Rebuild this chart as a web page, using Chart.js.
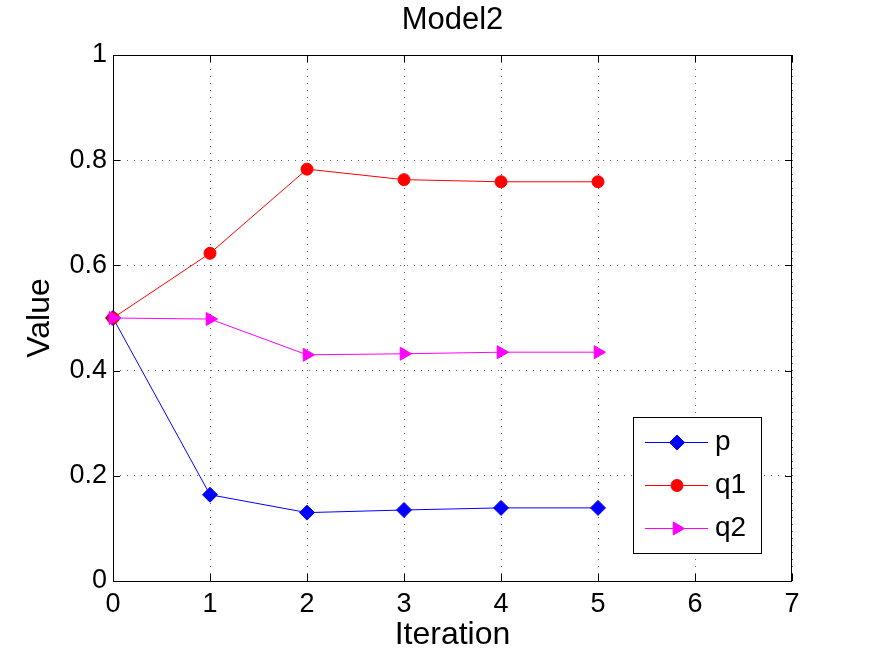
<!DOCTYPE html>
<html lang="en">

<head>
    <meta charset="UTF-8">
    <title>Model2</title>
    <script src="https://cdn.jsdelivr.net/npm/chart.js"></script>
    <style>
        body {
            margin: 0;
            background-color: #ffffff;
        }

        #modelChart {
            display: block;
        }
    </style>
</head>

<body>
    <canvas id="modelChart" width="873" height="657"></canvas>

    <script>
        // values
        const iterations = [0, 1, 2, 3, 4, 5];
        const pValues = [0.5, 0.164, 0.130, 0.135, 0.139, 0.139];
        const q1Values = [0.5, 0.623, 0.783, 0.763, 0.759, 0.759];
        const q2Values = [0.5, 0.498, 0.430, 0.432, 0.435, 0.435];

        const xTicks = [0, 1, 2, 3, 4, 5, 6, 7];
        const xTickLabels = ['0', '1', '2', '3', '4', '5', '6', '7'];
        const yTicks = [0, 0.2, 0.4, 0.6, 0.8, 1];
        const yTickLabels = ['0', '0.2', '0.4', '0.6', '0.8', '1'];

        const chartTitle = 'Model2';
        const fontFamily = "'Liberation Sans', Arial, Helvetica, sans-serif";

        function toPoints(values) {
            return values.map((v, i) => ({ x: iterations[i], y: v }));
        }

        // title above the axes, centred on the plot area
        const titlePlugin = {
            id: 'matlabTitle',
            afterDraw(chart) {
                const { ctx, chartArea } = chart;
                ctx.save();
                ctx.fillStyle = '#000';
                ctx.font = '31px ' + fontFamily;
                ctx.textAlign = 'center';
                ctx.textBaseline = 'middle';
                ctx.fillText(chartTitle, (chartArea.left + chartArea.right) / 2, 20);
                ctx.restore();
            }
        };

        // box around the axes plus inward tick marks on all four sides
        const framePlugin = {
            id: 'matlabFrame',
            beforeDatasetsDraw(chart) {
                const { ctx, chartArea, scales } = chart;
                const { left, right, top, bottom } = chartArea;
                const tickLen = 7;
                ctx.save();
                ctx.strokeStyle = '#000';
                ctx.lineWidth = 1;
                ctx.strokeRect(Math.round(left) + 0.5, Math.round(top) + 0.5,
                    Math.round(right - left) - 1, Math.round(bottom - top));
                ctx.beginPath();
                xTicks.forEach(v => {
                    const px = Math.round(scales.x.getPixelForValue(v)) + 0.5;
                    ctx.moveTo(px, bottom);
                    ctx.lineTo(px, bottom - tickLen);
                    ctx.moveTo(px, top);
                    ctx.lineTo(px, top + tickLen);
                });
                yTicks.forEach(v => {
                    const py = Math.round(scales.y.getPixelForValue(v)) + 0.5;
                    ctx.moveTo(left, py);
                    ctx.lineTo(left + tickLen, py);
                    ctx.moveTo(right, py);
                    ctx.lineTo(right - tickLen, py);
                });
                ctx.stroke();
                ctx.restore();
            }
        };

        // boxed legend in the lower right of the axes
        const legendPlugin = {
            id: 'matlabLegend',
            afterDraw(chart) {
                const { ctx, chartArea } = chart;
                const boxW = 128, boxH = 136;
                const boxLeft = Math.round(chartArea.right - 31 - boxW);
                const boxTop = Math.round(chartArea.bottom - 28 - boxH);
                const rows = [25, 68, 111];

                ctx.save();
                ctx.fillStyle = '#fff';
                ctx.fillRect(boxLeft, boxTop, boxW, boxH);
                ctx.strokeStyle = '#000';
                ctx.lineWidth = 1;
                ctx.strokeRect(boxLeft + 0.5, boxTop + 0.5, boxW, boxH);

                chart.data.datasets.forEach((ds, i) => {
                    const y = boxTop + rows[i];
                    ctx.strokeStyle = ds.borderColor;
                    ctx.lineWidth = 1;
                    ctx.beginPath();
                    ctx.moveTo(boxLeft + 12, y + 0.5);
                    ctx.lineTo(boxLeft + 75, y + 0.5);
                    ctx.stroke();

                    ctx.fillStyle = ds.pointBackgroundColor;
                    ctx.strokeStyle = ds.pointBorderColor;
                    Chart.helpers.drawPoint(ctx, {
                        pointStyle: ds.pointStyle,
                        rotation: ds.pointRotation || 0,
                        radius: ds.pointRadius,
                        borderWidth: 1
                    }, boxLeft + 44, y + 0.5);

                    ctx.fillStyle = '#000';
                    ctx.font = '28px ' + fontFamily;
                    ctx.textAlign = 'left';
                    ctx.textBaseline = 'middle';
                    ctx.fillText(ds.label, boxLeft + 82, y);
                });
                ctx.restore();
            }
        };

        const gridStyle = {
            color: '#666',
            lineWidth: 1,
            drawTicks: false
        };

        new Chart(document.getElementById('modelChart').getContext('2d'), {
            type: 'line',
            data: {
                datasets: [{
                    label: 'p',
                    data: toPoints(pValues),
                    borderColor: '#0000ff',
                    backgroundColor: '#0000ff',
                    pointBackgroundColor: '#0000ff',
                    pointBorderColor: '#0000ff',
                    pointStyle: 'rectRot',
                    pointRadius: 7.5,
                    borderWidth: 1,
                    order: 3,
                    clip: false
                }, {
                    label: 'q1',
                    data: toPoints(q1Values),
                    borderColor: '#ff0000',
                    backgroundColor: '#ff0000',
                    pointBackgroundColor: '#ff0000',
                    pointBorderColor: '#ff0000',
                    pointStyle: 'circle',
                    pointRadius: 6,
                    borderWidth: 1,
                    order: 2,
                    clip: false
                }, {
                    label: 'q2',
                    data: toPoints(q2Values),
                    borderColor: '#ff00ff',
                    backgroundColor: '#ff00ff',
                    pointBackgroundColor: '#ff00ff',
                    pointBorderColor: '#ff00ff',
                    pointStyle: 'triangle',
                    pointRotation: 90,
                    pointRadius: 7.5,
                    borderWidth: 1,
                    order: 1,
                    clip: false
                }]
            },
            options: {
                responsive: false,
                animation: false,
                devicePixelRatio: 1,
                layout: {
                    padding: { top: 55, right: 81, left: 0, bottom: 0 }
                },
                plugins: {
                    legend: { display: false },
                    tooltip: { enabled: false },
                    title: { display: false }
                },
                elements: {
                    line: { tension: 0 },
                    point: { pointBorderWidth: 1 }
                },
                scales: {
                    x: {
                        type: 'linear',
                        min: 0,
                        max: 7,
                        afterBuildTicks(scale) {
                            scale.ticks = xTicks.map(v => ({ value: v }));
                        },
                        afterFit(scale) {
                            scale.height = 76;
                        },
                        ticks: {
                            color: '#000',
                            padding: 7,
                            maxRotation: 0,
                            font: { family: fontFamily, size: 27 },
                            callback: (value, index) => xTickLabels[index]
                        },
                        grid: gridStyle,
                        border: { display: false, dash: [1, 6] },
                        title: {
                            display: true,
                            text: 'Iteration',
                            color: '#000',
                            font: { family: fontFamily, size: 32 },
                            padding: { top: 0, bottom: 3 }
                        }
                    },
                    y: {
                        type: 'linear',
                        min: 0,
                        max: 1,
                        afterBuildTicks(scale) {
                            scale.ticks = yTicks.map(v => ({ value: v }));
                        },
                        afterFit(scale) {
                            scale.width = 113;
                        },
                        ticks: {
                            color: '#000',
                            padding: 6,
                            font: { family: fontFamily, size: 27 },
                            callback: (value, index) => yTickLabels[index]
                        },
                        grid: gridStyle,
                        border: { display: false, dash: [1, 6] },
                        title: {
                            display: true,
                            text: 'Value',
                            color: '#000',
                            font: { family: fontFamily, size: 32 },
                            padding: { top: 21, bottom: 0 }
                        }
                    }
                }
            },
            plugins: [framePlugin, titlePlugin, legendPlugin]
        });
    </script>
</body>

</html>
